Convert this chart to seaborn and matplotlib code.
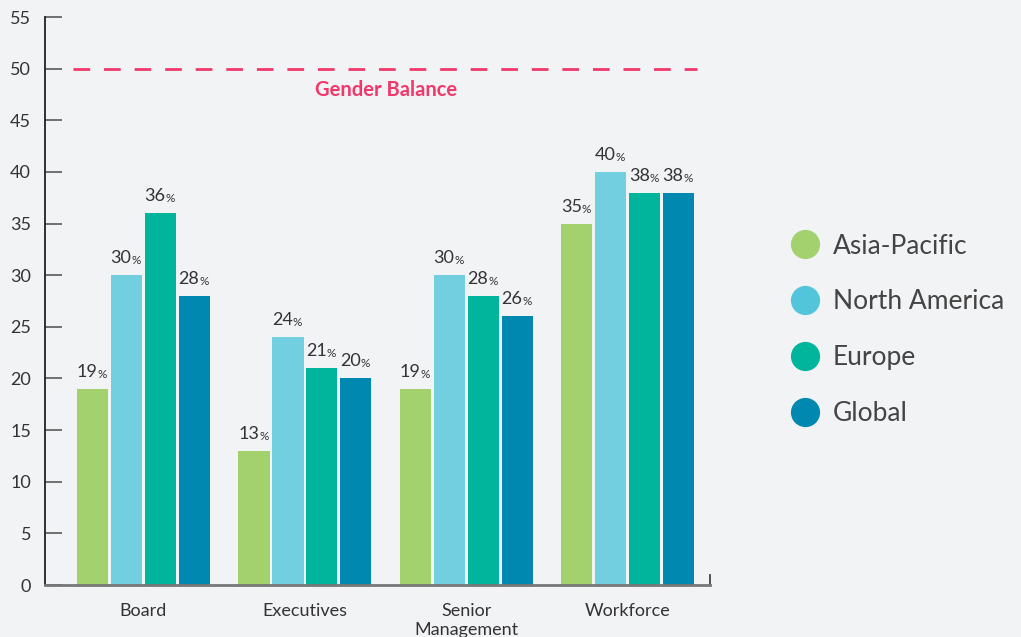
import matplotlib
matplotlib.use("Agg")
import matplotlib.pyplot as plt
import seaborn as sns
import pandas as pd
from matplotlib.lines import Line2D
from matplotlib.transforms import offset_copy

categories = ["Board", "Executives", "Senior\nManagement", "Workforce"]
regions = ["Asia-Pacific", "North America", "Europe", "Global"]
asia_pacific = [19, 13, 19, 35]
north_america = [30, 24, 30, 40]
europe = [36, 21, 28, 38]
global_vals = [28, 20, 26, 38]
y_ticks = list(range(0, 56, 5))
balance_value = 50
balance_label = "Gender Balance"

bar_colors = ["#a3d16d", "#72cfe0", "#00b59c", "#0088b0"]
legend_colors = ["#a3d16d", "#52c5da", "#00b59c", "#0088b0"]
bg = "#f2f3f5"

rows = []
for name, vals in zip(regions, [asia_pacific, north_america, europe, global_vals]):
    for c, v in zip(categories, vals):
        rows.append({"category": c, "region": name, "value": v})
df = pd.DataFrame(rows)

sns.set_style("white")
plt.rcParams["font.family"] = ["Lato", "DejaVu Sans"]

fig = plt.figure(figsize=(10.21, 6.37), dpi=100, facecolor=bg)
ax = fig.add_axes([45 / 1021, 52 / 637, 665 / 1021, 568 / 637])
ax.set_facecolor(bg)

sns.barplot(data=df, x="category", y="value", hue="region", order=categories,
            hue_order=regions, palette=bar_colors, width=0.84, gap=0.08,
            saturation=1, ax=ax, legend=False, linewidth=0)

ax.set_xlim(-0.61, 3.51)
ax.set_ylim(0, 55)
ax.set_yticks(y_ticks)
ax.set_yticklabels([str(t) for t in y_ticks], fontsize=13, color="#333333")
ax.tick_params(axis="y", left=True, direction="in", length=12, width=1.3,
               color="#666666", pad=10)
ax.tick_params(axis="x", bottom=False, length=0, pad=13, labelsize=13,
               labelcolor="#333333")
for lbl in ax.get_xticklabels():
    lbl.set_linespacing(1.25)
ax.set_xlabel("")
ax.set_ylabel("")

ax.spines["top"].set_visible(False)
ax.spines["left"].set_color("#222222")
ax.spines["left"].set_linewidth(1.3)
ax.spines["bottom"].set_color("#777777")
ax.spines["bottom"].set_linewidth(2)
ax.spines["right"].set_color("#444444")
ax.spines["right"].set_linewidth(1.3)
ax.spines["right"].set_bounds(0, 1)

# gender balance line
ax.axhline(balance_value, xmin=(73 - 45) / 665, xmax=(697 - 45) / 665,
           color="#f0386b", lw=2, dashes=(6, 5))
ax.text(1.5, balance_value - 2.05, balance_label, color="#f0386b", fontsize=14.5,
        fontweight="bold", ha="center", va="center")

# bar value labels
for p in ax.patches:
    h = p.get_height()
    if h <= 0:
        continue
    cx = p.get_x() + p.get_width() / 2
    tr1 = offset_copy(ax.transData, fig=fig, x=5, y=9, units="dots")
    ax.text(cx, h, f"{int(round(h))}", transform=tr1, ha="right", va="bottom",
            fontsize=13, color="#333333")
    ax.text(cx, h, "%", transform=tr1, ha="left", va="bottom",
            fontsize=8.5, color="#333333")

handles = [Line2D([0], [0], marker="o", linestyle="", markersize=20,
                  markerfacecolor=c, markeredgecolor=c) for c in legend_colors]
leg = fig.legend(handles, regions, loc="upper left",
                 bbox_to_anchor=(779 / 1021, 1 - 223 / 637), frameon=False,
                 prop={"size": 19}, labelspacing=1.17,
                 handletextpad=0.45, handlelength=1.2, labelcolor="#444444",
                 borderaxespad=0)

fig.savefig("out.png", dpi=100, facecolor=bg)
